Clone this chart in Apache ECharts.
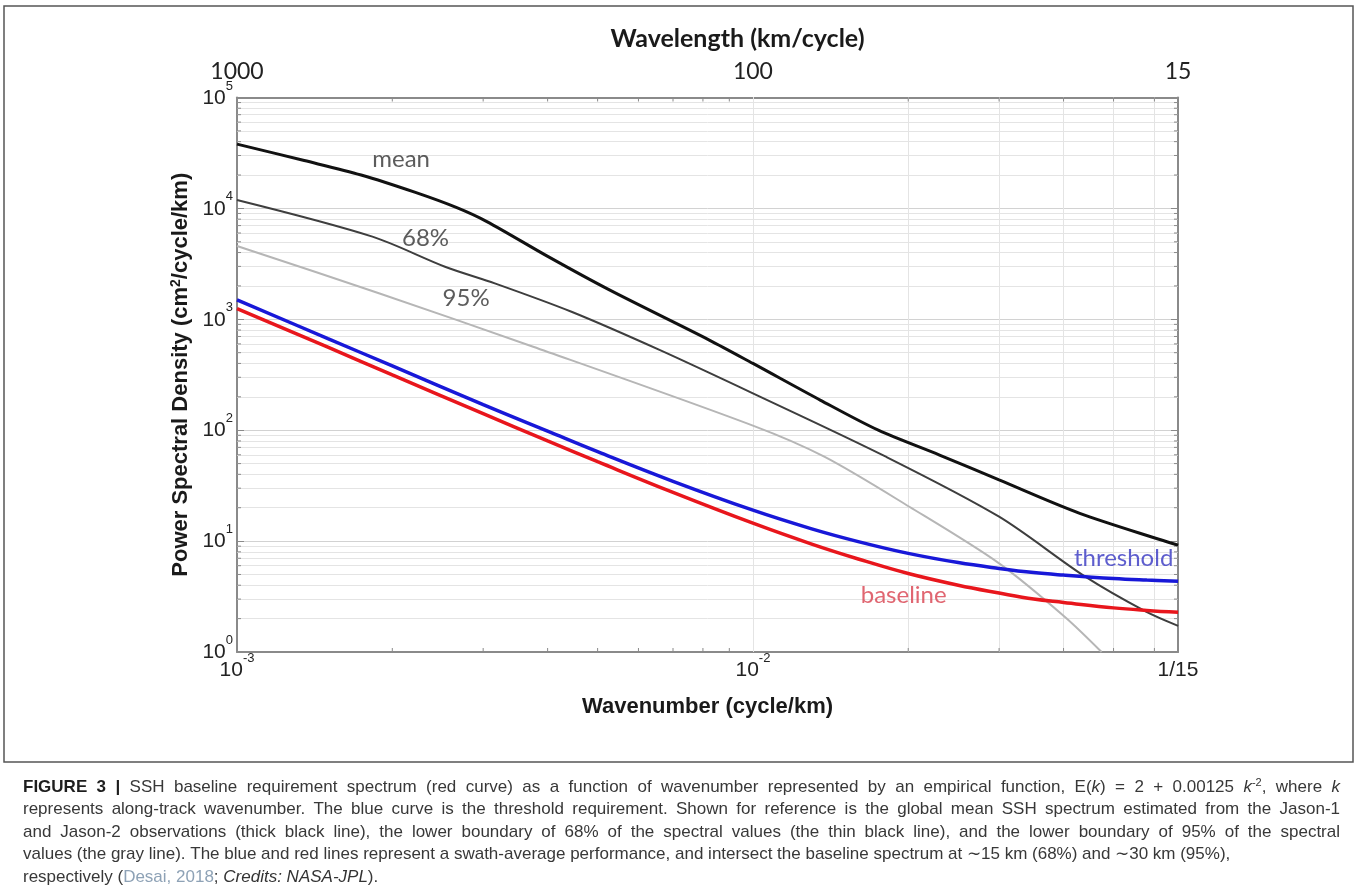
<!DOCTYPE html>
<html>
<head>
<meta charset="utf-8">
<script src="https://cdn.jsdelivr.net/npm/echarts@6/dist/echarts.min.js"></script>
<style>
html,body{margin:0;padding:0;background:#fff;}
#c{width:1357px;height:895px;}
</style>
</head>
<body>
<div id="c"></div>
<script>
// ---------- data ----------
const kMin = 0.001;
const kMax = 1 / 15;
const yMin = 1;
const yMax = 100000;

const meanK = [0.001, 0.00135, 0.00174, 0.00221, 0.00266, 0.00305, 0.00401, 0.00527, 0.00823, 0.0100, 0.0135, 0.0175, 0.0230, 0.0300, 0.0430, 0.0667];
const meanV = [38000, 27000, 20000, 14000, 10200, 7600, 3670, 1840, 650, 400, 187, 100, 59.7, 35.6, 17.8, 9.2];

const p68K = [0.001, 0.00183, 0.00253, 0.00316, 0.00445, 0.00659, 0.0100, 0.0181, 0.0300, 0.0440, 0.0578, 0.0667];
const p68V = [11900, 5560, 2980, 2110, 1170, 530, 215, 57.7, 16.6, 4.8, 2.31, 1.72];

const p95K = [0.001, 0.00189, 0.00375, 0.0100, 0.01375, 0.0201, 0.0300, 0.0402, 0.0474];
const p95V = [4580, 1710, 566, 110, 57.7, 20.4, 6.3, 2.08, 1.0];

const reqK = [0.001, 0.0015, 0.002, 0.003, 0.004, 0.005, 0.007, 0.010, 0.013, 0.016, 0.020, 0.025, 0.030, 0.035, 0.040, 0.050, 0.058, 0.0667];
const thresholdV = [1500, 670, 380, 170, 98, 64, 34.6, 19, 12.9, 9.9, 7.75, 6.4, 5.67, 5.2, 4.94, 4.6, 4.45, 4.34];
const baselineV  = [1250, 560, 315, 141, 80, 52, 27.5, 14.5, 9.4, 6.9, 5.1, 4.0, 3.4, 3.0, 2.8, 2.5, 2.37, 2.28];

// curve annotations (data coordinates)
const annoText = ['mean', '68%', '95%', 'threshold', 'baseline'];
const annoK = [0.00208, 0.00232, 0.00278, 0.0523, 0.0196];
const annoV = [27500, 5400, 1540, 7.04, 3.27];

// tick labels
const xExpLabels = ['-3', '-2'];
const xEndLabel = '1/15';
const topLabels = ['1000', '100', '15'];
const yExpLabels = ['0', '1', '2', '3', '4', '5'];

// minor grid / tick positions
const xMinor = [0.002, 0.003, 0.004, 0.005, 0.006, 0.007, 0.008, 0.009, 0.02, 0.03, 0.04, 0.05, 0.06];
const yMinor = [];
[1, 10, 100, 1000, 10000].forEach(d => [2,3,4,5,6,7,8,9].forEach(m => yMinor.push(d * m)));

// caption text
const capLines = [
  '{b|FIGURE} {b|3} {b||} SSH baseline requirement spectrum (red curve) as a function of wavenumber represented by an empirical function, E({i|k}) = 2 + 0.00125 {i|k}{s|-2}, where {i|k}',
  'represents along-track wavenumber. The blue curve is the threshold requirement. Shown for reference is the global mean SSH spectrum estimated from the Jason-1',
  'and Jason-2 observations (thick black line), the lower boundary of 68% of the spectral values (the thin black line), and the lower boundary of 95% of the spectral',
  'values (the gray line). The blue and red lines represent a swath-average performance, and intersect the baseline spectrum at \u223c15 km (68%) and \u223c30 km (95%),',
  'respectively ({c|Desai,} {c|2018}; {i|Credits:} {i|NASA-JPL}).'
];
const capJustify = [true, true, true, false, false];

// ---------- chart ----------
const pairs = (ks, vs) => ks.map((k, i) => [k, vs[i]]);
const annoColors = {'mean': '#333', '68%': '#333', '95%': '#333', 'threshold': '#3636c2', 'baseline': '#d8404e'};

const sansFont = '"Liberation Sans", Arial, sans-serif';
const calFont = 'Lato, "Open Sans", sans-serif';

// caption layout (justified lines, like the journal page)
const capSize = 17, capLeft = 23, capRight = 1340, capTop = 787, capStep = 22.5;
const capRich = {
  b: {fontFamily: sansFont, fontSize: capSize, fontWeight: 'bold', fill: '#1e1e1e', lineHeight: 20},
  i: {fontFamily: sansFont, fontSize: capSize, fontStyle: 'italic', fill: '#333', lineHeight: 20},
  c: {fontFamily: sansFont, fontSize: capSize, fill: '#8ea2b6', lineHeight: 20},
  s: {fontFamily: sansFont, fontSize: 11, fill: '#333', verticalAlign: 'top', lineHeight: 9}
};
const fontFor = key => {
  if (key === 'b') return 'bold ' + capSize + 'px ' + sansFont;
  if (key === 'i') return 'italic ' + capSize + 'px ' + sansFont;
  if (key === 's') return '11px ' + sansFont;
  return capSize + 'px ' + sansFont;
};
const mctx = document.createElement('canvas').getContext('2d');
const measureWord = w => {
  let width = 0;
  const re = /\{(\w)\|([^}]*)\}|([^{]+)/g;
  let m;
  while ((m = re.exec(w)) !== null) {
    const key = m[1] || 'n';
    const txt = m[1] ? m[2] : m[3];
    mctx.font = fontFor(key);
    width += mctx.measureText(txt).width;
  }
  return width;
};
mctx.font = fontFor('n');
const spaceW = mctx.measureText(' ').width;
const captionGraphics = [];
capLines.forEach((line, li) => {
  const words = line.split(' ');
  const widths = words.map(measureWord);
  const total = widths.reduce((a, b) => a + b, 0);
  const gap = capJustify[li] ? (capRight - capLeft - total) / (words.length - 1) : spaceW;
  let x = capLeft;
  words.forEach((w, wi) => {
    captionGraphics.push({
      type: 'text', silent: true, x: x, y: capTop + li * capStep,
      style: {
        text: w, fontFamily: sansFont, fontSize: capSize, fill: '#383838', lineHeight: 20,
        verticalAlign: 'middle', align: 'left', rich: capRich
      }
    });
    x += widths[wi] + gap;
  });
});

const expRich = {
  b: {fontSize: 21, lineHeight: 22, fontFamily: sansFont, color: '#222', verticalAlign: 'bottom'},
  s: {fontSize: 13, lineHeight: 14, fontFamily: sansFont, color: '#222', verticalAlign: 'bottom', padding: [0, 0, 16, 0]},
  n: {fontSize: 21, lineHeight: 22, fontFamily: sansFont, color: '#222', verticalAlign: 'bottom'}
};

const chart = echarts.init(document.getElementById('c'), null, {renderer: 'canvas'});

const axisLine = {show: true, lineStyle: {color: '#8a8a8a', width: 2}};
const tick = {show: true, inside: true, length: 7, lineStyle: {color: '#8a8a8a', width: 1}};

// minor tick marks on all four sides, placed through the axes' scales
const minorTickData = xMinor.map(k => [k, yMin, 0]).concat(yMinor.map(v => [kMin, v, 1]));
const minorLen = 4;
const renderMinorTick = (params, api) => {
  const kind = api.value(2);
  const st = {stroke: '#8a8a8a', lineWidth: 1};
  if (kind === 0) {
    const k = api.value(0);
    const b = api.coord([k, yMin]);
    const t = api.coord([k, yMax]);
    return {type: 'group', children: [
      {type: 'line', shape: {x1: b[0], y1: b[1], x2: b[0], y2: b[1] - minorLen}, style: st},
      {type: 'line', shape: {x1: t[0], y1: t[1], x2: t[0], y2: t[1] + minorLen}, style: st}
    ]};
  }
  const v = api.value(1);
  const l = api.coord([kMin, v]);
  const r = api.coord([kMax, v]);
  return {type: 'group', children: [
    {type: 'line', shape: {x1: l[0], y1: l[1], x2: l[0] + minorLen, y2: l[1]}, style: st},
    {type: 'line', shape: {x1: r[0], y1: r[1], x2: r[0] - minorLen, y2: r[1]}, style: st}
  ]};
};

const option = {
  animation: false,
  backgroundColor: '#fff',
  grid: {left: 237, right: 179, top: 97.5, bottom: 243, containLabel: false},
  xAxis: [
    {
      type: 'log', logBase: 10, min: kMin, max: kMax, position: 'bottom',
      axisLine, axisTick: tick,
      splitLine: {show: true, lineStyle: {color: '#d2d2d2', width: 1}},
      axisLabel: {
        margin: 7, rich: expRich,
        formatter: (v, i) => i < xExpLabels.length ? '{b|10}{s|' + xExpLabels[i] + '}' : '{n|' + xEndLabel + '}'
      },
      name: 'Wavenumber (cycle/km)', nameLocation: 'middle', nameGap: 44,
      nameTextStyle: {fontFamily: sansFont, fontWeight: 'bold', fontSize: 22, color: '#1a1a1a'}
    },
    {
      type: 'log', logBase: 10, min: kMin, max: kMax, position: 'top',
      axisLine, axisTick: tick, splitLine: {show: false},
      axisLabel: {
        margin: 15, fontFamily: calFont, fontSize: 23, color: '#222', lineHeight: 22,
        formatter: (v, i) => topLabels[i] || ''
      },
      name: 'Wavelength (km/cycle)', nameLocation: 'middle', nameGap: 46,
      nameTextStyle: {fontFamily: calFont, fontWeight: 'bold', fontSize: 25, color: '#1a1a1a', padding: [0, 0, 0, 60]}
    }
  ],
  yAxis: [
    {
      type: 'log', logBase: 10, min: yMin, max: yMax, position: 'left',
      axisLine, axisTick: tick,
      splitLine: {show: true, lineStyle: {color: '#d2d2d2', width: 1}},
      axisLabel: {
        margin: 4, rich: expRich,
        formatter: (v, i) => '{b|10}{s|' + yExpLabels[i] + '}'
      },
      name: 'Power Spectral Density (cm{sup|2}/cycle/km)', nameLocation: 'middle', nameGap: 45,
      nameTextStyle: {
        fontFamily: sansFont, fontWeight: 'bold', fontSize: 22, color: '#1a1a1a',
        rich: {sup: {fontFamily: sansFont, fontWeight: 'bold', fontSize: 14, color: '#1a1a1a', verticalAlign: 'top'}}
      }
    },
    {
      type: 'log', logBase: 10, min: yMin, max: yMax, position: 'right',
      axisLine, axisTick: tick, axisLabel: {show: false}, splitLine: {show: false}
    }
  ],
  graphic: [
    {
      type: 'rect', z: -1, silent: true,
      shape: {x: 4, y: 6, width: 1349, height: 756},
      style: {fill: 'none', stroke: '#555', lineWidth: 1.5}
    }
  ].concat(captionGraphics),
  series: [
    {
      name: 'grid', type: 'line', z: 1, silent: true, symbol: 'none',
      data: [[kMin, yMin]], lineStyle: {width: 0},
      markLine: {
        z: 1, silent: true, symbol: ['none', 'none'], label: {show: false}, animation: false,
        lineStyle: {color: '#e4e4e4', width: 1, type: 'solid'},
        emphasis: {disabled: true},
        data: xMinor.map(v => ({xAxis: v})).concat(yMinor.map(v => ({yAxis: v})))
      }
    },
    {
      name: 'minorTicks', type: 'custom', z: 2, silent: true, clip: false,
      renderItem: renderMinorTick, data: minorTickData
    },
    {name: '95%', type: 'line', z: 10, symbol: 'none', smooth: 0.3, data: pairs(p95K, p95V),
     lineStyle: {color: '#b6b6b6', width: 2}},
    {name: '68%', type: 'line', z: 11, symbol: 'none', smooth: 0.3, data: pairs(p68K, p68V),
     lineStyle: {color: '#3e3e3e', width: 2}},
    {name: 'mean', type: 'line', z: 12, symbol: 'none', smooth: 0.3, data: pairs(meanK, meanV),
     lineStyle: {color: '#111', width: 3}},
    {name: 'threshold', type: 'line', z: 13, symbol: 'none', smooth: 0.4, data: pairs(reqK, thresholdV),
     lineStyle: {color: '#1818d8', width: 3.5}},
    {name: 'baseline', type: 'line', z: 13, symbol: 'none', smooth: 0.4, data: pairs(reqK, baselineV),
     lineStyle: {color: '#e8161c', width: 3.5}},
    {
      name: 'labels', type: 'scatter', z: 15, symbolSize: 0, silent: true,
      data: annoText.map((t, i) => ({
        value: [annoK[i], annoV[i]], name: t,
        label: {color: annoColors[t]}
      })),
      label: {
        show: true, position: 'inside', formatter: p => p.name,
        fontFamily: calFont, fontSize: 24, align: 'center', verticalAlign: 'middle'
      }
    }
  ]
};
chart.setOption(option);
</script>
</body>
</html>
